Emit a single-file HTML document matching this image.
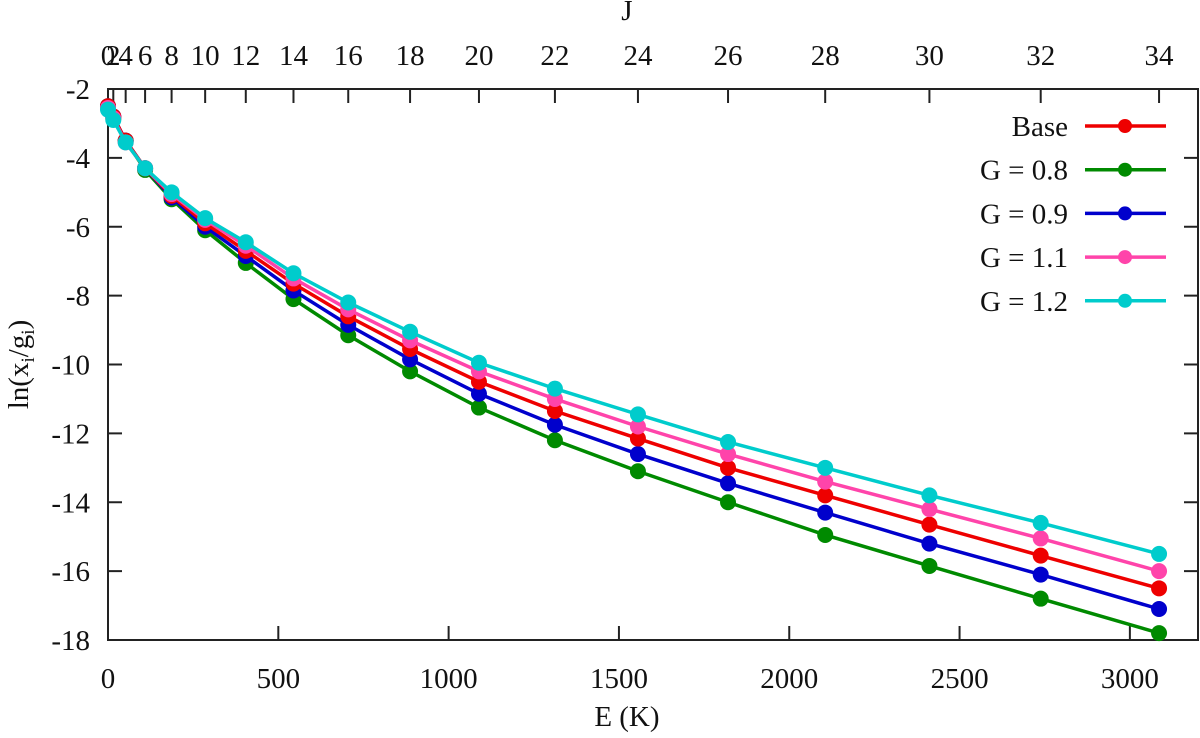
<!DOCTYPE html>
<html><head><meta charset="utf-8"><style>
body{margin:0;background:#fff;}
svg text{font-family:"Liberation Serif",serif;fill:#111;}
</style></head><body>
<svg id="chart" width="1200" height="733" xmlns="http://www.w3.org/2000/svg">
<g id="grid"></g>
<g id="series"></g>
<g id="legend"></g>
</svg>
<script>
const jLevels=[0,2,4,6,8,10,12,14,16,18,20,22,24,26,28,30,32,34];
const seriesNames=["Base","G = 0.8","G = 0.9","G = 1.1","G = 1.2"];
const seriesColors=["#ee0000","#008a00","#0000cc","#ff44aa","#00cccc"];
const baseVals=[-2.5,-2.8,-3.5,-4.3,-5.1,-5.9,-6.7,-7.65,-8.6,-9.55,-10.5,-11.35,-12.15,-13.0,-13.8,-14.65,-15.55,-16.5];
const g08Vals=[-2.5,-2.85,-3.5,-4.35,-5.2,-6.1,-7.05,-8.1,-9.15,-10.2,-11.25,-12.2,-13.1,-14.0,-14.95,-15.85,-16.8,-17.8];
const g09Vals=[-2.5,-2.8,-3.5,-4.3,-5.15,-6.0,-6.85,-7.85,-8.85,-9.85,-10.85,-11.75,-12.6,-13.45,-14.3,-15.2,-16.1,-17.1];
const g11Vals=[-2.55,-2.85,-3.55,-4.3,-5.05,-5.8,-6.55,-7.5,-8.4,-9.3,-10.2,-11.0,-11.8,-12.6,-13.4,-14.2,-15.05,-16.0];
const g12Vals=[-2.6,-2.9,-3.55,-4.3,-5.0,-5.75,-6.45,-7.35,-8.2,-9.05,-9.95,-10.7,-11.45,-12.25,-13.0,-13.8,-14.6,-15.5];
const xTicks=[0,500,1000,1500,2000,2500,3000];
const yTicks=[-2,-4,-6,-8,-10,-12,-14,-16,-18];
const rotB=2.593;

const L=108,R=1198,T=89,B=640,XMAX=3200,YMIN=-18,YMAX=-2;
const energy=j=>rotB*j*(j+1);
const sx=v=>L+(v/XMAX)*(R-L);
const sy=v=>T+(YMAX-v)/(YMAX-YMIN)*(B-T);
const NS="http://www.w3.org/2000/svg";
function mk(tag,attrs,parent,txt){const e=document.createElementNS(NS,tag);for(const k in attrs)e.setAttribute(k,attrs[k]);if(txt!==undefined)e.textContent=txt;parent.appendChild(e);return e;}
const grid=document.getElementById('grid'),ser=document.getElementById('series'),leg=document.getElementById('legend');
const FS=29;
let f=mk('rect',{x:L,y:T,width:R-L,height:B-T,fill:'none',stroke:'#222','stroke-width':2},grid);

xTicks.forEach(v=>{const x=sx(v);
 mk('line',{x1:x,y1:B,x2:x,y2:B-14,stroke:'#222','stroke-width':2},grid);
 let t=mk('text',{x:x,y:B+48,'text-anchor':'middle','font-size':FS},grid,String(v));
 });
yTicks.forEach(v=>{const y=sy(v);
 mk('line',{x1:L,y1:y,x2:L+14,y2:y,stroke:'#222','stroke-width':2},grid);
 mk('line',{x1:R,y1:y,x2:R-14,y2:y,stroke:'#222','stroke-width':2},grid);
 let t=mk('text',{x:L-18,y:y+10,'text-anchor':'end','font-size':FS},grid,String(v));
 });
jLevels.forEach(j=>{const x=sx(energy(j));
 mk('line',{x1:x,y1:T,x2:x,y2:T+14,stroke:'#222','stroke-width':2},grid);
 let t=mk('text',{x:x,y:T-24,'text-anchor':'middle','font-size':FS},grid,String(j));
 });
let xt=mk('text',{x:sx(1500)+8,y:726,'text-anchor':'middle','font-size':FS},grid,'E (K)');

let jt=mk('text',{x:sx(1500)+8,y:20,'text-anchor':'middle','font-size':FS},grid,'J');

let yt=mk('text',{x:0,y:0,'text-anchor':'middle','font-size':FS,transform:'translate(28,'+((T+B)/2)+') rotate(-90)'},grid);
yt.innerHTML='ln(x<tspan font-size="19" dy="6">i</tspan><tspan dy="-6">/g</tspan><tspan font-size="19" dy="6">i</tspan><tspan dy="-6">)</tspan>';


const allVals=[baseVals,g08Vals,g09Vals,g11Vals,g12Vals];
const order=[1,2,0,3,4];
order.forEach(i=>{const vals=allVals[i];const g=mk('g',{},ser);
 
 
 const pts=jLevels.map((j,k)=>sx(energy(j))+','+sy(vals[k])).join(' ');
 mk('polyline',{points:pts,fill:'none',stroke:seriesColors[i],'stroke-width':3.5},g);
 jLevels.forEach((j,k)=>{const c=mk('circle',{cx:sx(energy(j)),cy:sy(vals[k]),r:8,fill:seriesColors[i]},g);
  });
});
seriesNames.forEach((n,i)=>{const y=126+i*43.7;const g=mk('g',{},leg);
 
 mk('text',{x:1068,y:y+10,'text-anchor':'end','font-size':FS},g,n);
 mk('line',{x1:1085,y1:y,x2:1166,y2:y,stroke:seriesColors[i],'stroke-width':3.5},g);
 mk('circle',{cx:1125,cy:y,r:7,fill:seriesColors[i]},g);});
</script>
</body></html>
